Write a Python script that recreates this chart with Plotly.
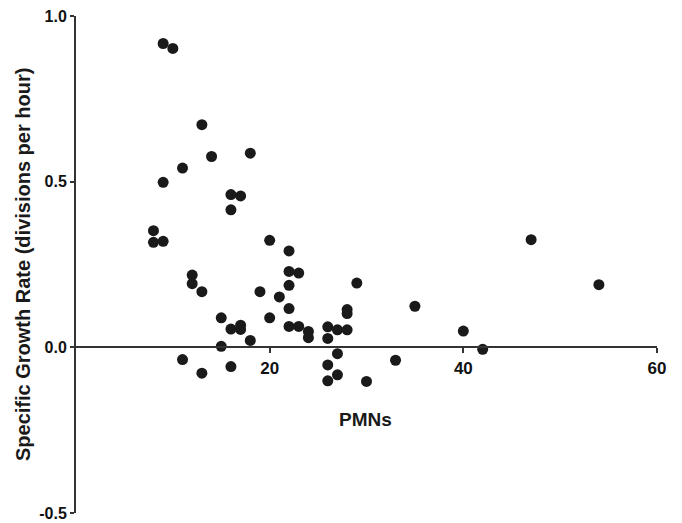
import plotly.graph_objects as go

pmns = [9, 10, 13, 14, 18, 11, 9, 16, 17, 16, 8, 8, 9, 20, 22, 22, 23, 22, 12, 12,
        13, 19, 21, 22, 29, 28, 28, 20, 35, 15, 16, 17, 17, 22, 23, 24, 24, 26, 27, 28,
        26, 18, 15, 11, 13, 16, 27, 26, 27, 26, 30, 33, 47, 54, 40, 42]
growth = [0.917, 0.902, 0.672, 0.576, 0.586, 0.541, 0.498, 0.461, 0.457, 0.415,
          0.352, 0.317, 0.320, 0.323, 0.291, 0.229, 0.224, 0.187, 0.218, 0.192,
          0.168, 0.168, 0.152, 0.117, 0.194, 0.114, 0.102, 0.089, 0.124, 0.089,
          0.055, 0.067, 0.054, 0.063, 0.063, 0.048, 0.029, 0.062, 0.053, 0.053,
          0.027, 0.021, 0.003, -0.037, -0.078, -0.058, -0.019, -0.053, -0.083, -0.101,
          -0.103, -0.039, 0.325, 0.189, 0.049, -0.006]

x_ticks = [20, 40, 60]
y_ticks = [-0.5, 0.0, 0.5, 1.0]
y_tick_text = ["-0.5", "0.0", "0.5", "1.0"]

FONT = "Liberation Sans, Arial, sans-serif"
AXC = "#333333"

# page body has an 8px default margin; compensate so the page layout matches
OFF = 8
PAGE_L, PAGE_T, PAGE_R, PAGE_B = 76, 16, 657, 513
W, H = 682 - OFF, 523 - OFF
L, T = PAGE_L - OFF, PAGE_T - OFF
PLOT_W = PAGE_R - PAGE_L
PLOT_H = PAGE_B - PAGE_T

fig = go.Figure(go.Scatter(
    x=pmns, y=growth, mode="markers",
    marker=dict(size=11, color="#1a1a1a", line=dict(width=0)),
    cliponaxis=False, hoverinfo="x+y",
))

fig.update_layout(
    width=W, height=H,
    margin=dict(l=L, r=W - L - PLOT_W, t=T, b=H - T - PLOT_H, autoexpand=False),
    paper_bgcolor="white", plot_bgcolor="white",
    showlegend=False,
    font=dict(family=FONT, color="#1a1a1a"),
    xaxis=dict(
        range=[0, 60], tickvals=x_ticks, ticktext=["<b>%d</b>" % v for v in x_ticks],
        showgrid=False, zeroline=False, automargin=False,
        showline=True, linecolor=AXC, linewidth=2,
        ticks="outside", ticklen=5, tickwidth=1.5, tickcolor=AXC,
        tickfont=dict(family=FONT, size=17, color="#111111", weight="bold"),
        anchor="free", position=1/3, ticklabeloverflow="allow",
    ),
    yaxis=dict(
        range=[-0.5, 1.0], tickvals=y_ticks, ticktext=["<b>%s</b>" % t for t in y_tick_text],
        showgrid=False, zeroline=False, automargin=False,
        showline=True, linecolor=AXC, linewidth=2,
        ticks="outside", ticklen=4, tickwidth=1.5, tickcolor=AXC,
        tickfont=dict(family=FONT, size=16, color="#111111", weight="bold"),
        ticklabeloverflow="allow",
    ),
    annotations=[
        dict(text="<b>Specific Growth Rate (divisions per hour)</b>",
             xref="paper", yref="paper", x=-(PAGE_L - 23) / PLOT_W,
             y=(PAGE_B - 265) / PLOT_H,
             xanchor="center", yanchor="middle", textangle=-90, showarrow=False,
             font=dict(family=FONT, size=20, color="#1a1a1a")),
        dict(text="<b>PMNs</b>",
             xref="paper", yref="paper", x=(365 - PAGE_L) / PLOT_W,
             y=(PAGE_B - 419) / PLOT_H,
             xanchor="center", yanchor="middle", showarrow=False,
             font=dict(family=FONT, size=19, color="#1a1a1a")),
    ],
)

fig.write_html("out.html")
